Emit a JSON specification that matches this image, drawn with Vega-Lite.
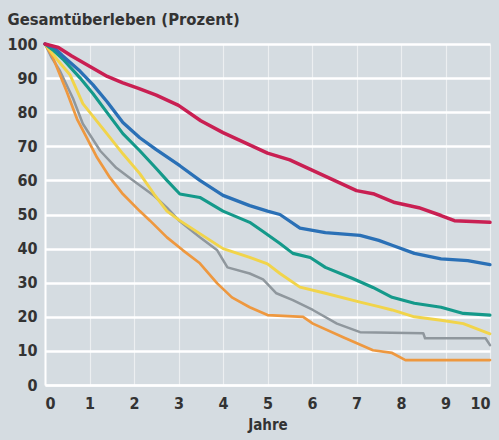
{
  "$schema": "https://vega.github.io/schema/vega-lite/v6.json",
  "autosize": {"type": "none"},
  "padding": {"left": 45, "top": 44, "right": 9, "bottom": 55},
  "width": 445,
  "height": 341,
  "background": "#d5dce1",
  "config": {
    "view": {"fill": "#d5dce1", "stroke": null},
    "font": "DejaVu Sans Condensed, Liberation Sans, sans-serif",
    "axis": {"labelColor": "#333333", "titleColor": "#333333", "labelFontWeight": "bold", "titleFontWeight": "bold", "ticks": false}
  },
  "datasets": {
    "kurven": [
      {"s": "a_grau", "t": 0, "v": 100}, {"s": "a_grau", "t": 0.15, "v": 96}, {"s": "a_grau", "t": 0.34, "v": 92}, {"s": "a_grau", "t": 0.63, "v": 84}, {"s": "a_grau", "t": 0.85, "v": 76.6}, {"s": "a_grau", "t": 1.24, "v": 68.7}, {"s": "a_grau", "t": 1.6, "v": 63.7}, {"s": "a_grau", "t": 1.98, "v": 60}, {"s": "a_grau", "t": 2.45, "v": 55.5}, {"s": "a_grau", "t": 2.74, "v": 52}, {"s": "a_grau", "t": 3.03, "v": 48}, {"s": "a_grau", "t": 3.48, "v": 43.3}, {"s": "a_grau", "t": 3.87, "v": 39.5}, {"s": "a_grau", "t": 4.1, "v": 34.5}, {"s": "a_grau", "t": 4.6, "v": 32.7}, {"s": "a_grau", "t": 4.9, "v": 31}, {"s": "a_grau", "t": 5.2, "v": 26.9}, {"s": "a_grau", "t": 5.57, "v": 24.9}, {"s": "a_grau", "t": 6.02, "v": 22}, {"s": "a_grau", "t": 6.56, "v": 18}, {"s": "a_grau", "t": 7.08, "v": 15.5}, {"s": "a_grau", "t": 8.5, "v": 15.2}, {"s": "a_grau", "t": 8.54, "v": 13.7}, {"s": "a_grau", "t": 9.9, "v": 13.7}, {"s": "a_grau", "t": 10, "v": 11.7},
      {"s": "b_orange", "t": 0, "v": 100}, {"s": "b_orange", "t": 0.18, "v": 96}, {"s": "b_orange", "t": 0.49, "v": 86}, {"s": "b_orange", "t": 0.72, "v": 78}, {"s": "b_orange", "t": 0.94, "v": 72.5}, {"s": "b_orange", "t": 1.17, "v": 66.7}, {"s": "b_orange", "t": 1.46, "v": 60.8}, {"s": "b_orange", "t": 1.75, "v": 56}, {"s": "b_orange", "t": 2.13, "v": 51}, {"s": "b_orange", "t": 2.36, "v": 48.2}, {"s": "b_orange", "t": 2.74, "v": 43.3}, {"s": "b_orange", "t": 3.1, "v": 39.5}, {"s": "b_orange", "t": 3.48, "v": 35.7}, {"s": "b_orange", "t": 3.87, "v": 29.8}, {"s": "b_orange", "t": 4.2, "v": 25.7}, {"s": "b_orange", "t": 4.6, "v": 22.8}, {"s": "b_orange", "t": 5, "v": 20.5}, {"s": "b_orange", "t": 5.8, "v": 20}, {"s": "b_orange", "t": 6.02, "v": 18}, {"s": "b_orange", "t": 6.7, "v": 14}, {"s": "b_orange", "t": 7.37, "v": 10.2}, {"s": "b_orange", "t": 7.8, "v": 9.4}, {"s": "b_orange", "t": 8.1, "v": 7.3}, {"s": "b_orange", "t": 10, "v": 7.3},
      {"s": "c_gelb", "t": 0, "v": 100}, {"s": "c_gelb", "t": 0.3, "v": 95}, {"s": "c_gelb", "t": 0.56, "v": 91}, {"s": "c_gelb", "t": 0.85, "v": 82.5}, {"s": "c_gelb", "t": 1.39, "v": 73.7}, {"s": "c_gelb", "t": 1.75, "v": 67.8}, {"s": "c_gelb", "t": 2.13, "v": 62}, {"s": "c_gelb", "t": 2.45, "v": 56}, {"s": "c_gelb", "t": 2.74, "v": 51}, {"s": "c_gelb", "t": 3.03, "v": 48.2}, {"s": "c_gelb", "t": 3.48, "v": 44.4}, {"s": "c_gelb", "t": 4, "v": 40}, {"s": "c_gelb", "t": 4.6, "v": 37.4}, {"s": "c_gelb", "t": 5, "v": 35.5}, {"s": "c_gelb", "t": 5.28, "v": 32.7}, {"s": "c_gelb", "t": 5.73, "v": 28.7}, {"s": "c_gelb", "t": 6.3, "v": 26.9}, {"s": "c_gelb", "t": 7.08, "v": 24.3}, {"s": "c_gelb", "t": 7.5, "v": 23}, {"s": "c_gelb", "t": 7.8, "v": 22}, {"s": "c_gelb", "t": 8.3, "v": 20}, {"s": "c_gelb", "t": 8.9, "v": 19}, {"s": "c_gelb", "t": 9.4, "v": 18}, {"s": "c_gelb", "t": 10, "v": 15},
      {"s": "d_gruen", "t": 0, "v": 100}, {"s": "d_gruen", "t": 0.2, "v": 98}, {"s": "d_gruen", "t": 0.4, "v": 95.6}, {"s": "d_gruen", "t": 0.79, "v": 90}, {"s": "d_gruen", "t": 1.08, "v": 85.4}, {"s": "d_gruen", "t": 1.4, "v": 79.8}, {"s": "d_gruen", "t": 1.75, "v": 73.7}, {"s": "d_gruen", "t": 2.13, "v": 68.7}, {"s": "d_gruen", "t": 2.5, "v": 63.5}, {"s": "d_gruen", "t": 2.74, "v": 60}, {"s": "d_gruen", "t": 3.03, "v": 56}, {"s": "d_gruen", "t": 3.48, "v": 55}, {"s": "d_gruen", "t": 4, "v": 51}, {"s": "d_gruen", "t": 4.6, "v": 47.7}, {"s": "d_gruen", "t": 4.9, "v": 45}, {"s": "d_gruen", "t": 5.28, "v": 41.5}, {"s": "d_gruen", "t": 5.57, "v": 38.6}, {"s": "d_gruen", "t": 5.96, "v": 37.4}, {"s": "d_gruen", "t": 6.3, "v": 34.5}, {"s": "d_gruen", "t": 6.9, "v": 31.3}, {"s": "d_gruen", "t": 7.37, "v": 28.6}, {"s": "d_gruen", "t": 7.8, "v": 25.7}, {"s": "d_gruen", "t": 8.3, "v": 24}, {"s": "d_gruen", "t": 8.9, "v": 22.8}, {"s": "d_gruen", "t": 9.4, "v": 21}, {"s": "d_gruen", "t": 10, "v": 20.5},
      {"s": "e_blau", "t": 0, "v": 100}, {"s": "e_blau", "t": 0.2, "v": 99}, {"s": "e_blau", "t": 0.4, "v": 96.5}, {"s": "e_blau", "t": 0.79, "v": 92}, {"s": "e_blau", "t": 1.08, "v": 88}, {"s": "e_blau", "t": 1.4, "v": 83}, {"s": "e_blau", "t": 1.75, "v": 77}, {"s": "e_blau", "t": 2.13, "v": 72.5}, {"s": "e_blau", "t": 2.5, "v": 69}, {"s": "e_blau", "t": 3.03, "v": 64.3}, {"s": "e_blau", "t": 3.48, "v": 60}, {"s": "e_blau", "t": 4, "v": 55.6}, {"s": "e_blau", "t": 4.6, "v": 52.6}, {"s": "e_blau", "t": 5, "v": 51}, {"s": "e_blau", "t": 5.28, "v": 50}, {"s": "e_blau", "t": 5.73, "v": 46}, {"s": "e_blau", "t": 6.3, "v": 44.7}, {"s": "e_blau", "t": 7.08, "v": 43.9}, {"s": "e_blau", "t": 7.5, "v": 42.4}, {"s": "e_blau", "t": 7.8, "v": 41}, {"s": "e_blau", "t": 8.3, "v": 38.6}, {"s": "e_blau", "t": 8.9, "v": 37}, {"s": "e_blau", "t": 9.5, "v": 36.5}, {"s": "e_blau", "t": 10, "v": 35.3},
      {"s": "f_rot", "t": 0, "v": 100}, {"s": "f_rot", "t": 0.3, "v": 99}, {"s": "f_rot", "t": 0.6, "v": 96.5}, {"s": "f_rot", "t": 1, "v": 93.5}, {"s": "f_rot", "t": 1.4, "v": 90.5}, {"s": "f_rot", "t": 1.75, "v": 88.6}, {"s": "f_rot", "t": 2.1, "v": 87}, {"s": "f_rot", "t": 2.5, "v": 85}, {"s": "f_rot", "t": 3, "v": 82}, {"s": "f_rot", "t": 3.5, "v": 77.5}, {"s": "f_rot", "t": 4, "v": 74}, {"s": "f_rot", "t": 4.5, "v": 71}, {"s": "f_rot", "t": 5, "v": 68}, {"s": "f_rot", "t": 5.5, "v": 66}, {"s": "f_rot", "t": 6, "v": 63}, {"s": "f_rot", "t": 6.5, "v": 60}, {"s": "f_rot", "t": 7, "v": 57}, {"s": "f_rot", "t": 7.4, "v": 56}, {"s": "f_rot", "t": 7.86, "v": 53.5}, {"s": "f_rot", "t": 8.4, "v": 52}, {"s": "f_rot", "t": 8.9, "v": 49.7}, {"s": "f_rot", "t": 9.2, "v": 48.2}, {"s": "f_rot", "t": 10, "v": 47.7}
    ]
  },
  "data": {"name": "kurven"},
  "mark": {"type": "line", "strokeJoin": "round", "strokeCap": "round"},
  "encoding": {
    "x": {
      "field": "t", "type": "quantitative",
      "scale": {"domain": [0, 10], "nice": false},
      "axis": {
        "values": [0, 1, 2, 3, 4, 5, 6, 7, 8, 9, 10], "format": "d",
        "title": "Jahre", "titleFontSize": 15, "titlePadding": 6,
        "labelFontSize": 16, "labelPadding": 10,
        "domainColor": "#ffffff", "domainWidth": 2,
        "grid": true, "gridColor": "#ffffff", "gridOpacity": 0.55, "gridWidth": 1.2
      }
    },
    "y": {
      "field": "v", "type": "quantitative",
      "scale": {"domain": [0, 100], "nice": false},
      "axis": {
        "values": [0, 10, 20, 30, 40, 50, 60, 70, 80, 90, 100],
        "title": "Gesamtüberleben (Prozent)", "titleAngle": 0, "titleAlign": "left", "titleBaseline": "alphabetic",
        "titleX": -38, "titleY": -20, "titleFontSize": 16.5,
        "labelFontSize": 16, "labelPadding": 8,
        "domainColor": "#ffffff", "domainWidth": 2,
        "grid": true, "gridColor": "#ffffff", "gridWidth": 2.5
      }
    },
    "color": {
      "field": "s", "type": "nominal", "legend": null,
      "scale": {
        "domain": ["a_grau", "b_orange", "c_gelb", "d_gruen", "e_blau", "f_rot"],
        "range": ["#8f979d", "#ee983f", "#f1d44a", "#14998a", "#2a70b6", "#c91f52"]
      }
    },
    "strokeWidth": {
      "field": "s", "type": "nominal", "legend": null,
      "scale": {
        "domain": ["a_grau", "b_orange", "c_gelb", "d_gruen", "e_blau", "f_rot"],
        "range": [2.5, 3.5, 4.5, 3.5, 3.5, 3.5]
      }
    }
  }
}
